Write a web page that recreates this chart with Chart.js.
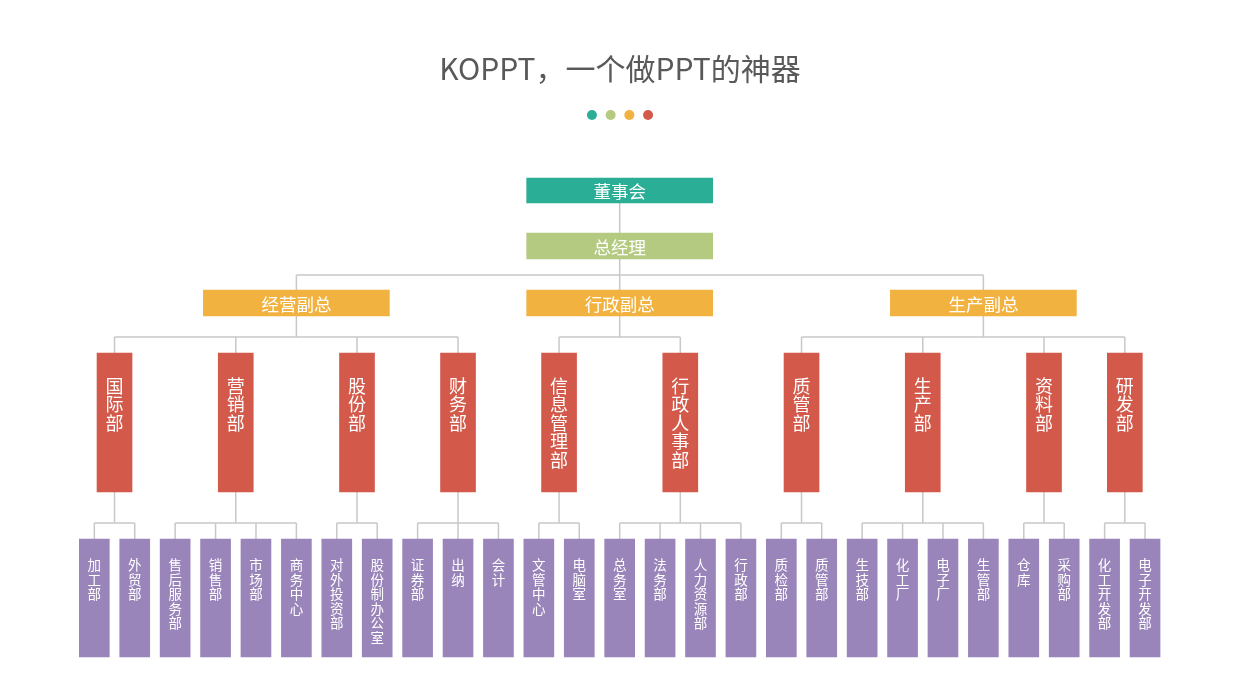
<!DOCTYPE html>
<html lang="zh-CN">
<head>
<meta charset="utf-8">
<title>KOPPT 组织架构</title>
<script src="https://cdn.jsdelivr.net/npm/chart.js@4.4.0/dist/chart.umd.min.js"></script>
<style>
  html, body { margin: 0; padding: 0; background: #fff; }
  #wrap { width: 1240px; height: 698px; position: relative; }
</style>
</head>
<body>
<div id="wrap"><canvas id="org"></canvas></div>
<script>
// --- dados do organograma ---
const titulo = 'KOPPT，一个做PPT的神器';
const board = ['董事会'];
const managers = ['总经理'];
const vps = ['经营副总', '行政副总', '生产副总'];
const vpParent = [0, 0, 0];
const depts = ['国际部', '营销部', '股份部', '财务部', '信息管理部', '行政人事部', '质管部', '生产部', '资料部', '研发部'];
const deptParent = [0, 0, 0, 0, 1, 1, 2, 2, 2, 2];
const units = [
    '加工部', '外贸部', '售后服务部', '销售部', '市场部', '商务中心', '对外投资部', '股份制办公室',
    '证券部', '出纳', '会计', '文管中心', '电脑室', '总务室', '法务部', '人力资源部', '行政部',
    '质检部', '质管部', '生技部', '化工厂', '电子厂', '生管部', '仓库', '采购部', '化工开发部', '电子开发部'
];
const unitParent = [0, 0, 1, 1, 1, 1, 2, 2, 3, 3, 3, 4, 4, 5, 5, 5, 5, 6, 6, 7, 7, 7, 7, 8, 8, 9, 9];

// --- layout (estilos e faixas de cada nível) ---
const niveis = [
    { nomes: board, pais: null, top: 178, bottom: 203, width: 186, cor: '#2bae96' },
    { nomes: managers, pais: [0], top: 233, bottom: 259, width: 186, cor: '#b4ca80' },
    { nomes: vps, pais: vpParent, top: 290, bottom: 316, width: 186, cor: '#f2b23f' },
    { nomes: depts, pais: deptParent, top: 353, bottom: 492, width: 35, cor: '#d35a4b', vertical: true, fonte: 18, passo: 18.5, primeiro: 33 },
    { nomes: units, pais: unitParent, top: 539, bottom: 657, width: 30, cor: '#9a85bb', vertical: true, fonte: 13.5, passo: 14.5, primeiro: 26 }
];
const barramento = [218, 275, 337, 523]; // linha horizontal entre nível i e i+1
const corLinha = '#c8c8c8';
const fonteCJK = '"Noto Sans CJK SC", "Noto Sans", sans-serif';

// posições x: folhas em sequência, pais na mediana dos filhos
function mediana(v) {
    const s = [...v].sort((a, b) => a - b);
    const m = Math.floor(s.length / 2);
    return s.length % 2 ? s[m] : (s[m - 1] + s[m]) / 2;
}
const xs = [];
xs[niveis.length - 1] = niveis[niveis.length - 1].nomes.map((_, i) => i);
for (let l = niveis.length - 2; l >= 0; l--) {
    xs[l] = niveis[l].nomes.map((_, p) =>
        mediana(niveis[l + 1].pais.map((pp, c) => pp === p ? xs[l + 1][c] : null).filter(v => v !== null)));
}

// conectores (segmentos separados por y nulo)
const conectores = [];
function seg(x1, y1, x2, y2) {
    conectores.push({ x: x1, y: y1 }, { x: x2, y: y2 }, { x: x2, y: null });
}
for (let l = 0; l < niveis.length - 1; l++) {
    const filhos = niveis[l + 1];
    niveis[l].nomes.forEach((_, p) => {
        const cx = filhos.pais.map((pp, c) => pp === p ? xs[l + 1][c] : null).filter(v => v !== null);
        if (!cx.length) return;
        const px = xs[l][p];
        const by = barramento[l];
        seg(px, niveis[l].bottom, px, by);
        seg(Math.min(px, ...cx), by, Math.max(px, ...cx), by);
        cx.forEach(x => seg(x, by, x, filhos.top));
    });
}

const datasets = niveis.map((n, l) => ({
    type: 'bar',
    nomes: n.nomes,
    nivel: l,
    data: n.nomes.map((_, i) => ({ x: xs[l][i], y: [n.top, n.bottom] })),
    backgroundColor: n.cor,
    barThickness: n.width,
    borderWidth: 0,
    borderSkipped: false,
    grouped: false,
    order: 0
}));
datasets.push({
    type: 'line',
    data: conectores,
    borderColor: corLinha,
    borderWidth: 1.5,
    pointRadius: 0,
    spanGaps: false,
    order: 5
});

// título e bolinhas
const tituloPlugin = {
    id: 'tituloOrg',
    afterDraw(chart) {
        const ctx = chart.ctx;
        const cx = chart.width / 2;
        ctx.save();
        ctx.fillStyle = '#595959';
        ctx.font = '30px ' + fonteCJK;
        ctx.textAlign = 'center';
        ctx.textBaseline = 'middle';
        ctx.fillText(titulo, cx, 69);
        const coresBolinha = ['#2bae96', '#b4ca80', '#f2b23f', '#d35a4b'];
        coresBolinha.forEach((c, i) => {
            ctx.beginPath();
            ctx.fillStyle = c;
            ctx.arc(cx + (i - 1.5) * 18.7, 115, 5, 0, Math.PI * 2);
            ctx.fill();
        });
        ctx.restore();
    }
};

// textos dentro das caixas
const rotulosPlugin = {
    id: 'rotulosOrg',
    afterDatasetsDraw(chart) {
        const ctx = chart.ctx;
        ctx.save();
        ctx.fillStyle = '#ffffff';
        ctx.textAlign = 'center';
        ctx.textBaseline = 'middle';
        chart.data.datasets.forEach((ds, d) => {
            if (!ds.nomes) return;
            const n = niveis[ds.nivel];
            chart.getDatasetMeta(d).data.forEach((el, i) => {
                const nome = ds.nomes[i];
                const topo = Math.min(el.y, el.base);
                const base = Math.max(el.y, el.base);
                if (n.vertical) {
                    ctx.font = n.fonte + 'px ' + fonteCJK;
                    [...nome].forEach((ch, k) => ctx.fillText(ch, el.x, topo + n.primeiro + k * n.passo));
                } else {
                    ctx.font = '17.5px ' + fonteCJK;
                    ctx.fillText(nome, el.x, (topo + base) / 2 + 1);
                }
            });
        });
        ctx.restore();
    }
};

new Chart(document.getElementById('org'), {
    type: 'bar',
    data: { datasets },
    options: {
        responsive: true,
        maintainAspectRatio: false,
        animation: false,
        layout: { padding: 0 },
        plugins: {
            legend: { display: false },
            tooltip: { enabled: false },
            title: { display: false }
        },
        scales: {
            x: { type: 'linear', display: false, min: -2.334, max: 28.35, offset: false },
            y: { type: 'linear', display: false, min: 0, max: 698, reverse: true, beginAtZero: false }
        }
    },
    plugins: [tituloPlugin, rotulosPlugin]
});
</script>
</body>
</html>
